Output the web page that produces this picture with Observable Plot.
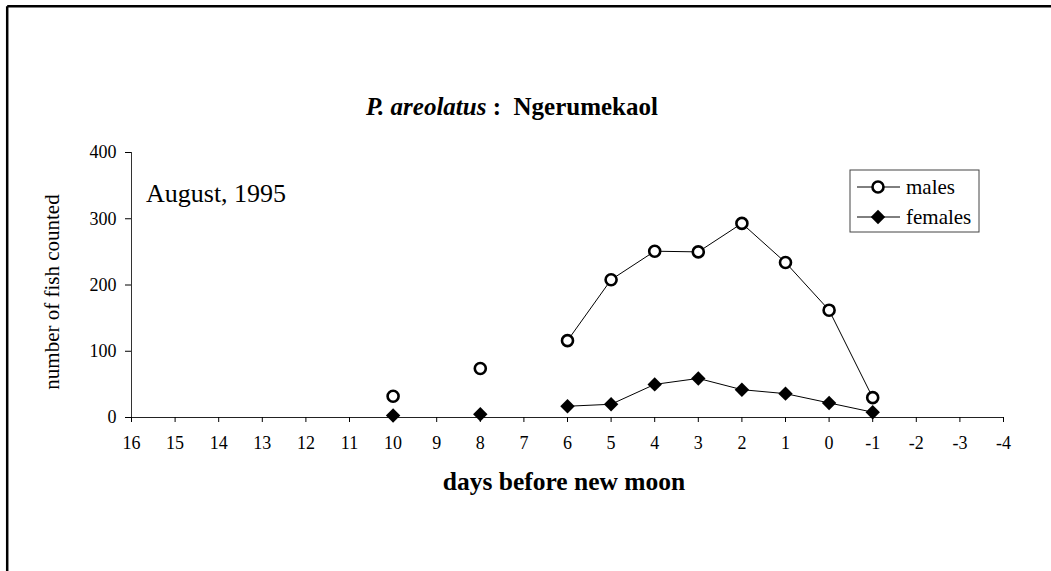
<!DOCTYPE html>
<html>
<head>
<meta charset="utf-8">
<script src="https://cdn.jsdelivr.net/npm/d3@7"></script>
<script src="https://cdn.jsdelivr.net/npm/@observablehq/plot@0.6"></script>
<style>
  html, body { margin: 0; padding: 0; background: #fff; }
  #chart { width: 1051px; height: 571px; overflow: hidden; }
  svg { display: block; }
</style>
</head>
<body>
<div id="chart"></div>
<script>
// ---- data ----
const days = [10, 9, 8, 7, 6, 5, 4, 3, 2, 1, 0, -1];
const males = [32, null, 74, null, 116, 208, 251, 250, 293, 234, 162, 30];
const females = [3, null, 5, null, 17, 20, 50, 59, 42, 36, 22, 8];
const xTicks = [16, 15, 14, 13, 12, 11, 10, 9, 8, 7, 6, 5, 4, 3, 2, 1, 0, -1, -2, -3, -4];
const yTicks = [0, 100, 200, 300, 400];
const seriesNames = ["males", "females"];

const rows = days.map((d, i) => ({ day: d, males: males[i], females: females[i] }));

const font = '"Liberation Serif", "Times New Roman", serif';

const plot = Plot.plot({
  width: 1051,
  height: 571,
  marginLeft: 131,
  marginRight: 48,
  marginTop: 152,
  marginBottom: 154,
  style: { fontFamily: font, fontSize: "18px", color: "#000", background: "#fff" },
  x: { domain: [16, -4] },
  y: { domain: [0, 400] },
  marks: [
    Plot.ruleY([0], { stroke: "#222", strokeWidth: 1 }),
    Plot.ruleX([16], { stroke: "#333", strokeWidth: 1 }),
    Plot.axisX({ ticks: xTicks, tickSize: 5, tickPadding: 14, tickFormat: d => String(d), label: null, fontSize: 18 }),
    Plot.axisY({ ticks: yTicks, tickSize: 6, tickPadding: 9, tickFormat: d => String(d), label: null, fontSize: 18 }),
    Plot.line(rows, { x: "day", y: "males", stroke: "#000", strokeWidth: 1 }),
    Plot.line(rows, { x: "day", y: "females", stroke: "#000", strokeWidth: 1 }),
    Plot.dot(rows, { x: "day", y: "females", symbol: "diamond2", r: 6.5, fill: "#000", stroke: "none" }),
    Plot.dot(rows, { x: "day", y: "males", symbol: "circle", r: 5.5, fill: "#fff", stroke: "#000", strokeWidth: 2.6 })
  ]
});

document.getElementById("chart").appendChild(plot);

const svg = d3.select(plot);
svg.selectAll('g[aria-label="x-axis tick label"], g[aria-label="y-axis tick label"]')
  .attr("font-size", 18).attr("font-family", font);

// ---- annotations: frame, title, labels, legend ----
// page frame (top and left edges)
svg.append("line").attr("x1", 7.2).attr("y1", 6.2).attr("x2", 1051).attr("y2", 6.2)
  .attr("stroke", "#000").attr("stroke-width", 2.5);
svg.append("line").attr("x1", 7.2).attr("y1", 6.2).attr("x2", 7.2).attr("y2", 571)
  .attr("stroke", "#000").attr("stroke-width", 2.5);

// title
const title = svg.append("text")
  .attr("x", 512).attr("y", 115)
  .attr("text-anchor", "middle")
  .attr("font-family", font).attr("font-size", 25).attr("font-weight", "bold")
  .style("white-space", "pre")
  .attr("fill", "#000");
title.append("tspan").attr("font-style", "italic").text("P. areolatus");
title.append("tspan").text(" :\u00A0\u00A0Ngerumekaol");

// subtitle inside the plot
svg.append("text")
  .attr("x", 146).attr("y", 202)
  .attr("text-anchor", "start")
  .attr("font-family", font).attr("font-size", 26)
  .attr("fill", "#000")
  .text("August, 1995");

// x axis label
svg.append("text")
  .attr("x", 564).attr("y", 490)
  .attr("text-anchor", "middle")
  .attr("font-family", font).attr("font-size", 25.5).attr("font-weight", "bold")
  .attr("fill", "#000")
  .text("days before new moon");

// y axis label
svg.append("text")
  .attr("transform", "translate(59,292) rotate(-90)")
  .attr("text-anchor", "middle")
  .attr("font-family", font).attr("font-size", 21)
  .attr("fill", "#000")
  .text("number of fish counted");

// legend
const lg = svg.append("g");
lg.append("rect").attr("x", 850).attr("y", 170).attr("width", 129).attr("height", 62)
  .attr("fill", "#fff").attr("stroke", "#444").attr("stroke-width", 1);
const rowsY = [187, 217];
seriesNames.forEach((name, i) => {
  const y = rowsY[i];
  lg.append("line").attr("x1", 857).attr("x2", 900).attr("y1", y).attr("y2", y)
    .attr("stroke", "#000").attr("stroke-width", 1);
  if (name === "males") {
    lg.append("circle").attr("cx", 878).attr("cy", y).attr("r", 5.5)
      .attr("fill", "#fff").attr("stroke", "#000").attr("stroke-width", 2.6);
  } else {
    lg.append("path").attr("transform", `translate(878,${y})`)
      .attr("d", d3.symbol(d3.symbolDiamond2, Math.PI * 6.5 * 6.5)())
      .attr("fill", "#000");
  }
  lg.append("text").attr("x", 906).attr("y", y + 6.5)
    .attr("text-anchor", "start")
    .attr("font-family", font).attr("font-size", 21)
    .attr("fill", "#000")
    .text(name);
});
</script>
</body>
</html>
